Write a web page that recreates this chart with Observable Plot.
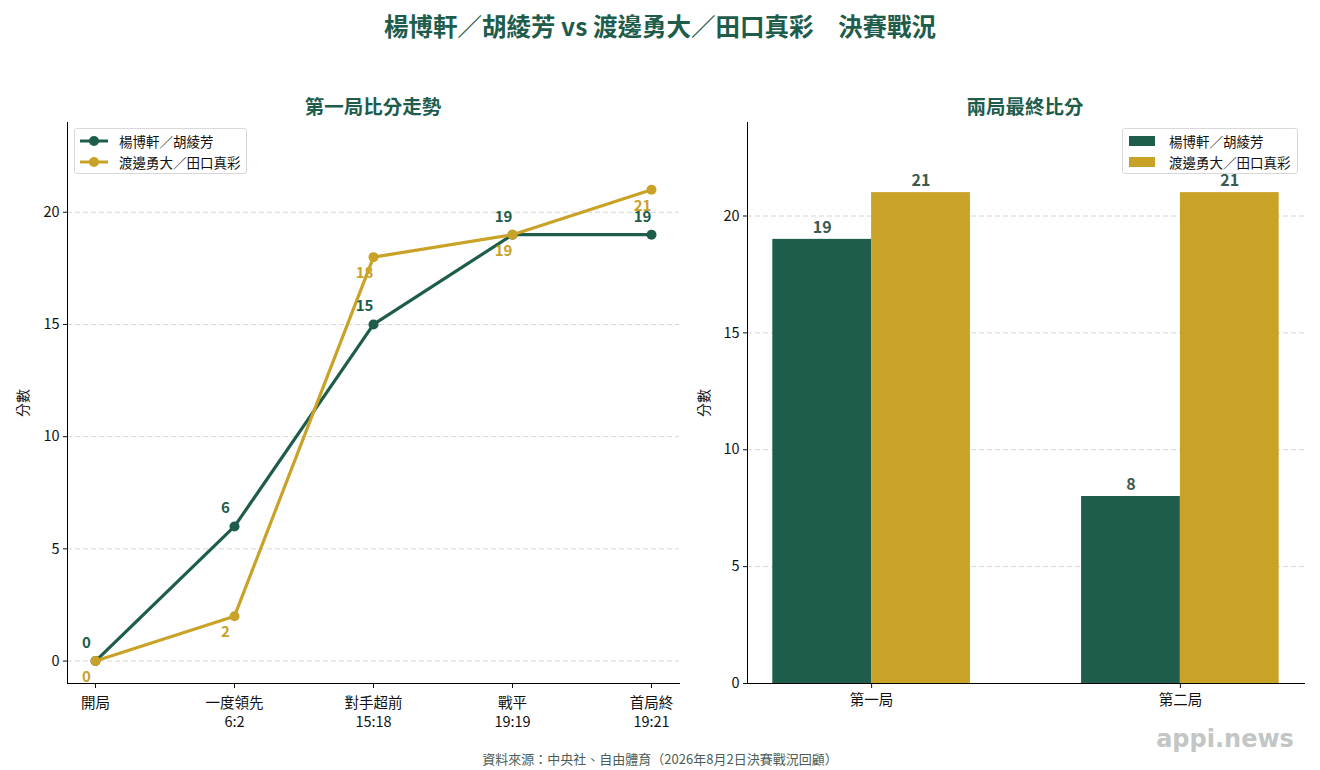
<!DOCTYPE html>
<html>
<head>
<meta charset="utf-8">
<script src="https://cdn.jsdelivr.net/npm/d3@7"></script>
<script src="https://cdn.jsdelivr.net/npm/@observablehq/plot@0.6"></script>
<style>
  html, body { margin: 0; padding: 0; background: #fff; }
  body { font-family: "Noto Sans CJK TC", "Noto Sans", sans-serif; }
  #wrap { position: relative; width: 1320px; height: 770px; overflow: hidden; background: #fff; }
  .abs { position: absolute; white-space: nowrap; z-index: 5; }
  .c { transform: translate(-50%, -50%); }
  .legend { position: absolute; z-index: 6; border: 1px solid #d8d8d8; border-radius: 3px; background: rgba(255,255,255,0.85); box-sizing: border-box; font-size: 13.5px; color: #111; }
  .row { position: absolute; left: 0; height: 20px; display: flex; align-items: center; }
</style>
</head>
<body>
<div id="wrap"></div>
<script>
// ---- data ----
const stages = ["開局", "一度領先", "對手超前", "戰平", "首局終"];
const stageScores = ["", "6:2", "15:18", "19:19", "19:21"];
const teams = ["楊博軒／胡綾芳", "渡邊勇大／田口真彩"];
const teamAScores = [0, 6, 15, 19, 19];
const teamBScores = [0, 2, 18, 19, 21];
const games = ["第一局", "第二局"];
const teamAGames = [19, 8];
const teamBGames = [21, 21];
const yTicks = [0, 5, 10, 15, 20];

const green = "#1e5c4b";
const gold = "#c9a228";
const font = '"Noto Sans CJK TC", "Noto Sans", sans-serif';

const wrap = document.getElementById("wrap");

// ---- left: line chart ----
const lineA = stages.map((s, i) => ({stage: s, score: teamAScores[i], team: teams[0]}));
const lineB = stages.map((s, i) => ({stage: s, score: teamBScores[i], team: teams[1]}));

const left = Plot.plot({
  width: 700, height: 770,
  marginTop: 122, marginBottom: 87, marginLeft: 67, marginRight: 21,
  style: {background: "transparent", fontFamily: font, fontSize: "14px", color: "#111", overflow: "visible"},
  x: {type: "point", domain: stages, padding: 0.2},
  y: {domain: [-1, 24]},
  marks: [
    Plot.gridY(yTicks, {stroke: "#d6d6d6", strokeOpacity: 1, strokeDasharray: "5,3"}),
    Plot.axisY(yTicks, {tickSize: 4, tickPadding: 4, label: null, fontSize: 14.5}),
    Plot.axisX({tickSize: 5, tickPadding: 6, label: null, fontSize: 14.5, lineHeight: 1.3,
      tickFormat: d => { const s = stageScores[stages.indexOf(d)]; return s ? d + "\n" + s : d; }}),
    Plot.frame({anchor: "left", stroke: "#000"}),
    Plot.frame({anchor: "bottom", stroke: "#000"}),
    Plot.line(lineA, {x: "stage", y: "score", stroke: green, strokeWidth: 3.2}),
    Plot.dot(lineA, {x: "stage", y: "score", fill: green, r: 5}),
    Plot.line(lineB, {x: "stage", y: "score", stroke: gold, strokeWidth: 3.2}),
    Plot.dot(lineB, {x: "stage", y: "score", fill: gold, r: 5}),
    Plot.text(lineA, {x: "stage", y: "score", text: d => String(d.score), dx: -9, dy: -18, fill: green, fontWeight: "bold", fontSize: 15}),
    Plot.text(lineB, {x: "stage", y: "score", text: d => String(d.score), dx: -9, dy: 16, fill: gold, fontWeight: "bold", fontSize: 15})
  ]
});
left.style.position = "absolute";
left.style.left = "0px";
left.style.top = "0px";
wrap.appendChild(left);

// ---- right: grouped bars ----
const barWidth = 0.32;
const barData = games.flatMap((g, gi) => teams.map((t, ti) => ({
  game: g, gi, team: t, ti, score: ti === 0 ? teamAGames[gi] : teamBGames[gi]
})));

const right = Plot.plot({
  width: 620, height: 770,
  marginTop: 122, marginBottom: 87, marginLeft: 47, marginRight: 16,
  style: {background: "transparent", fontFamily: font, fontSize: "14px", color: "#111", overflow: "visible"},
  x: {domain: [-0.402, 1.402]},
  y: {domain: [0, 24]},
  color: {domain: teams, range: [green, gold]},
  marks: [
    Plot.gridY([5, 10, 15, 20], {stroke: "#d6d6d6", strokeOpacity: 1, strokeDasharray: "5,3"}),
    Plot.rectY(barData, {x1: d => d.gi + (d.ti - 1) * barWidth, x2: d => d.gi + d.ti * barWidth, y: "score", fill: "team"}),
    Plot.text(barData, {x: d => d.gi + (d.ti - 0.5) * barWidth, y: "score", text: d => String(d.score), dy: -12, fill: "#3b5a50", fontWeight: "bold", fontSize: 16}),
    Plot.axisY(yTicks, {tickSize: 4, tickPadding: 4, label: null, fontSize: 14.5}),
    Plot.axisX([0, 1], {tickSize: 5, tickPadding: 6, label: null, fontSize: 14.5, tickFormat: i => games[i]}),
    Plot.frame({anchor: "left", stroke: "#000"}),
    Plot.frame({anchor: "bottom", stroke: "#000"})
  ]
});
right.style.position = "absolute";
right.style.left = "700px";
right.style.top = "0px";
wrap.appendChild(right);

// ---- texts ----
function addText(txt, x, y, css) {
  const d = document.createElement("div");
  d.className = "abs c";
  d.textContent = txt;
  d.style.left = x + "px";
  d.style.top = y + "px";
  Object.assign(d.style, css || {});
  wrap.appendChild(d);
  return d;
}
addText("楊博軒／胡綾芳 vs 渡邊勇大／田口真彩　決賽戰況", 660, 25, {fontSize: "24.5px", fontWeight: "bold", color: green});
addText("第一局比分走勢", 373, 105, {fontSize: "19.5px", fontWeight: "bold", color: green});
addText("兩局最終比分", 1025, 105, {fontSize: "19.5px", fontWeight: "bold", color: green});
addText("分數", 22, 403, {fontSize: "14px", color: "#111", transform: "translate(-50%,-50%) rotate(-90deg)"});
addText("分數", 703, 403, {fontSize: "14px", color: "#111", transform: "translate(-50%,-50%) rotate(-90deg)"});
addText("資料來源：中央社、自由體育（2026年8月2日決賽戰況回顧）", 660, 758, {fontSize: "13px", color: "#4a5e57"});
addText("appi.news", 1225, 739, {fontSize: "24px", fontWeight: "bold", color: "#c2c6c5", fontFamily: '"DejaVu Sans", sans-serif'});

// ---- legends ----
function legend(x, y, w, kind) {
  const box = document.createElement("div");
  box.className = "legend";
  box.style.left = x + "px"; box.style.top = y + "px";
  box.style.width = w + "px"; box.style.height = "46px";
  teams.forEach((t, i) => {
    const row = document.createElement("div");
    row.className = "row";
    row.style.top = (2 + i * 21) + "px";
    const col = i === 0 ? green : gold;
    let sw;
    if (kind === "line") {
      sw = `<svg width="44" height="20" style="display:block"><line x1="5" x2="33" y1="10" y2="10" stroke="${col}" stroke-width="3"/><circle cx="19" cy="10" r="5" fill="${col}"/></svg>`;
    } else {
      sw = `<svg width="46" height="20" style="display:block"><rect x="6" y="5" width="26" height="10" fill="${col}"/></svg>`;
    }
    row.innerHTML = sw + `<span>${t}</span>`;
    box.appendChild(row);
  });
  wrap.appendChild(box);
}
legend(74, 128, 173, "line");
legend(1122, 128, 176, "rect");
</script>
</body>
</html>
